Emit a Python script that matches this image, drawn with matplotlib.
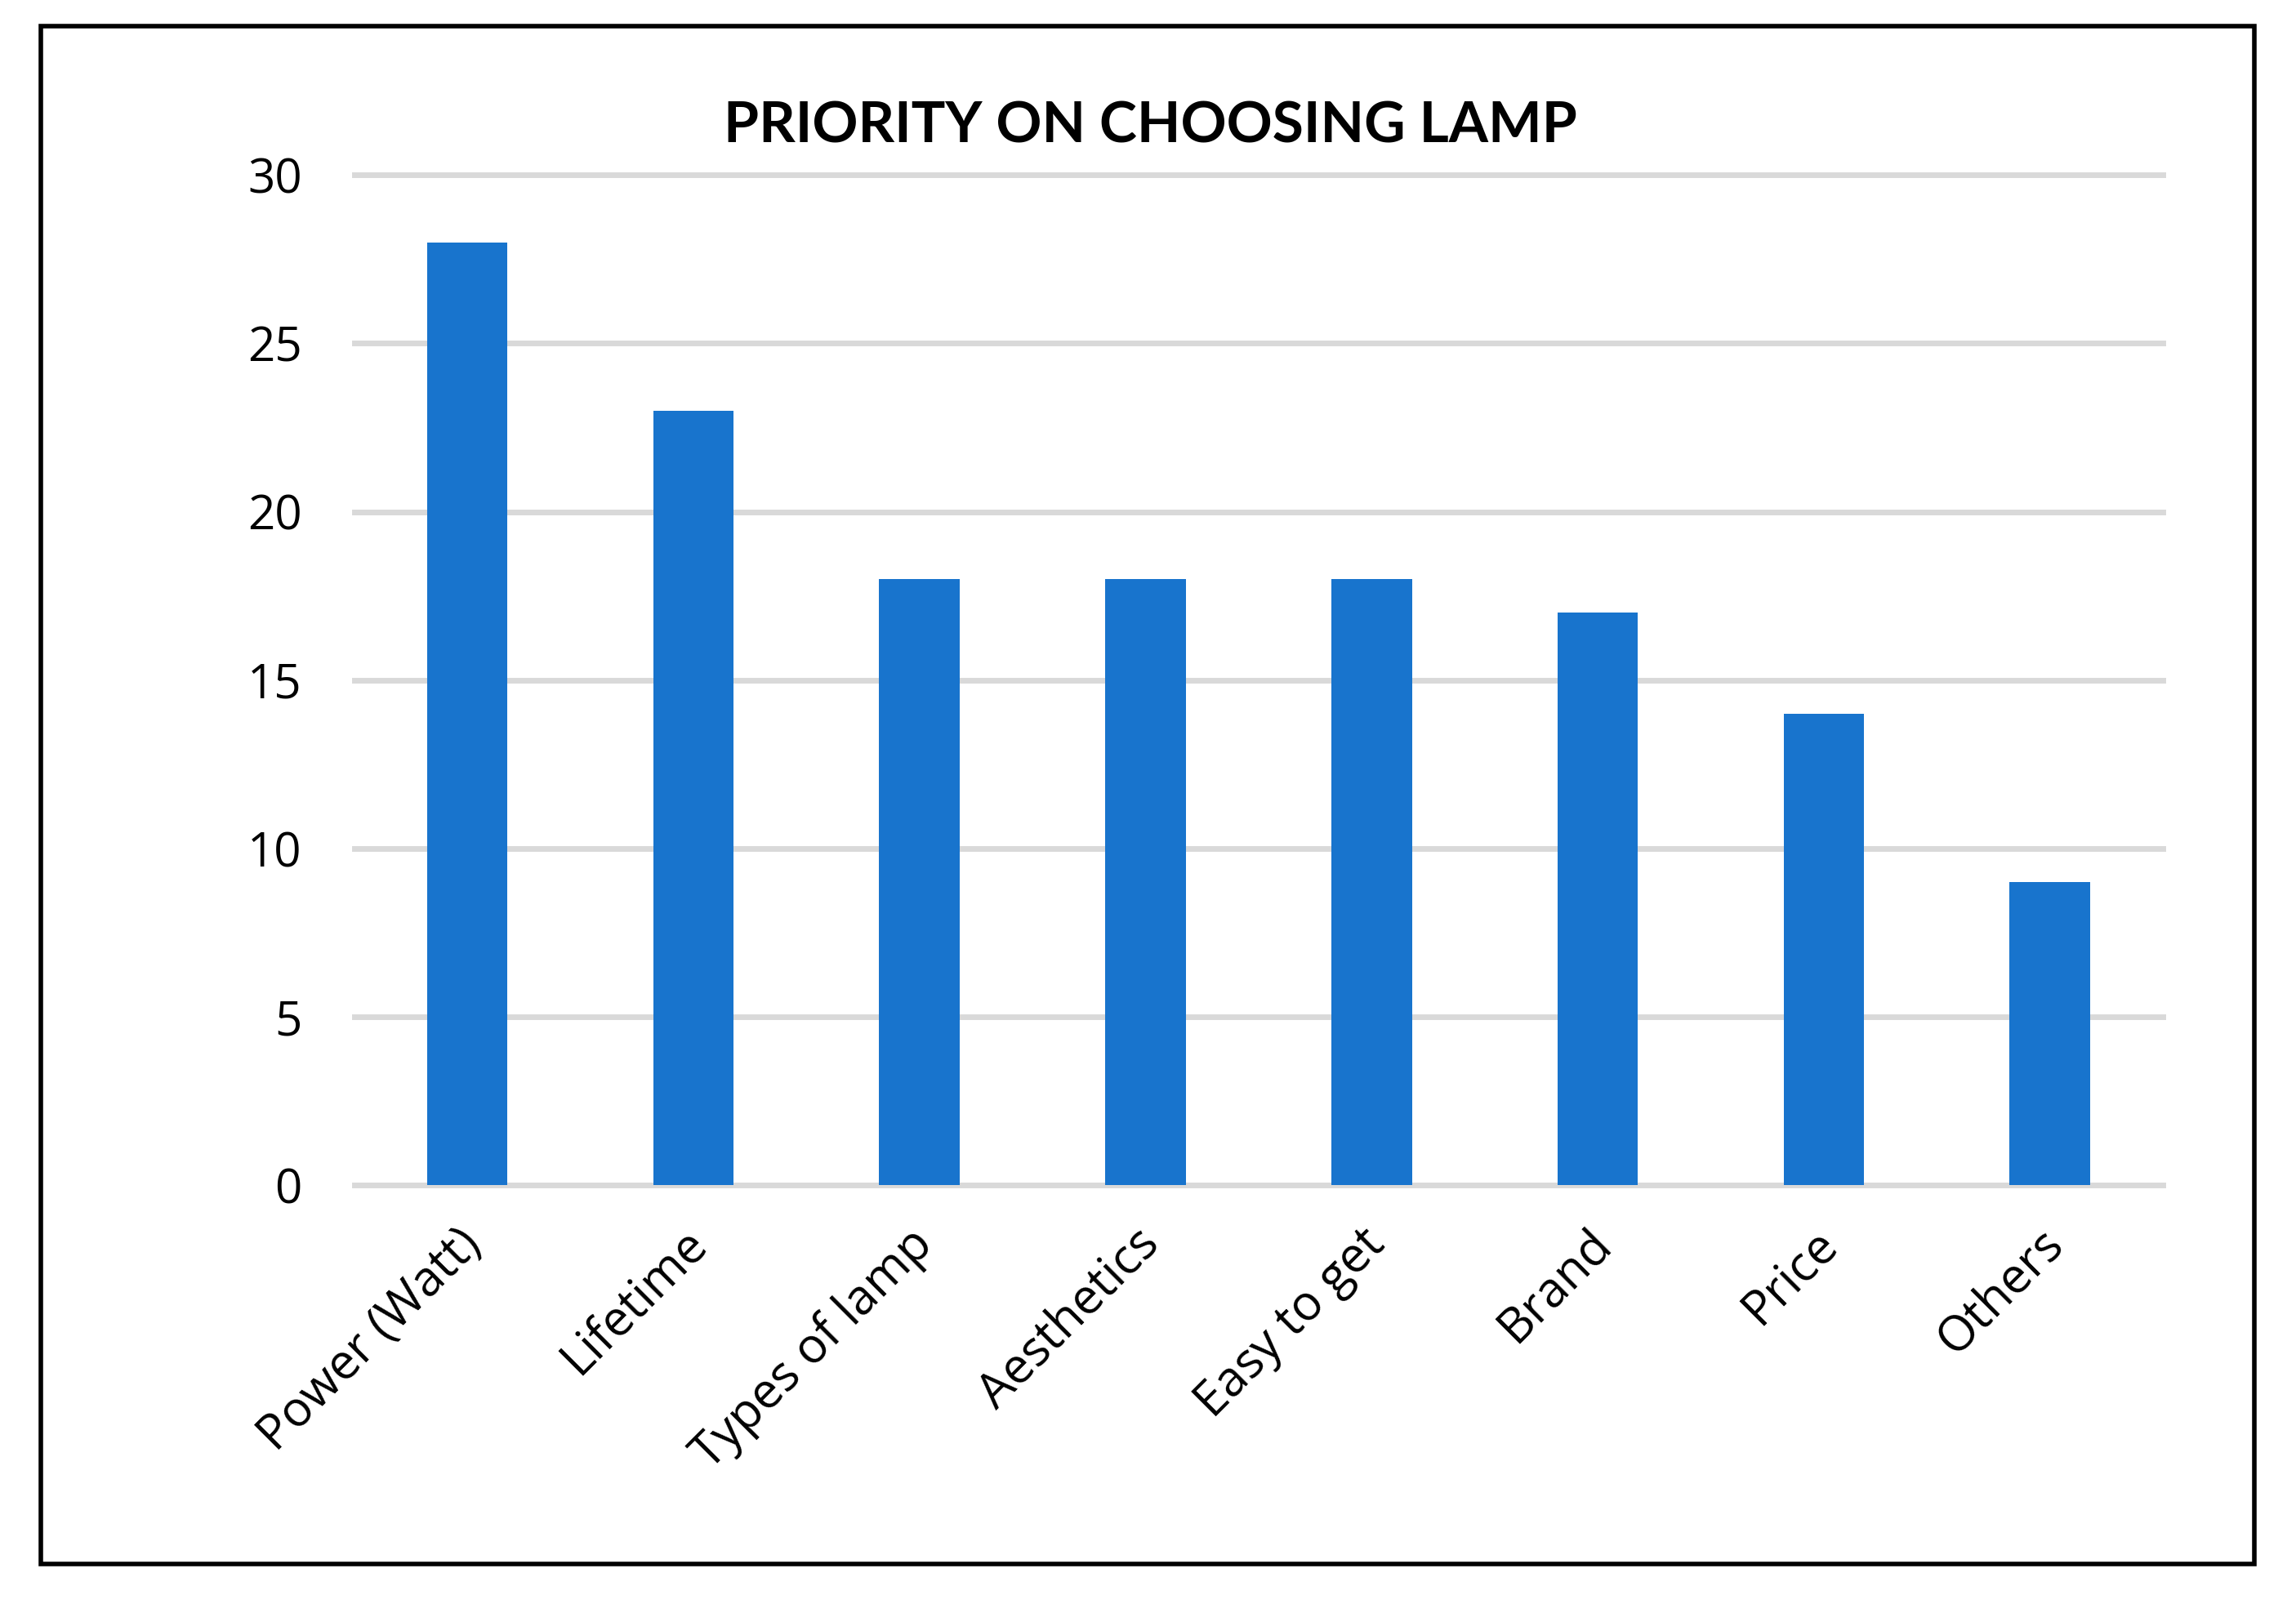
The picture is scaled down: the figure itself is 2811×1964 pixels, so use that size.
import matplotlib
matplotlib.use('Agg')
import matplotlib.pyplot as plt
import matplotlib.transforms as mtransforms
from matplotlib.patches import Rectangle
import numpy as np

# データ
categories = ['Power (Watt)', 'Lifetime', 'Types of lamp', 'Aesthetics',
              'Easy to get', 'Brand', 'Price', 'Others']
values = [28, 23, 18, 18, 18, 17, 14, 9]
yticks = [0, 5, 10, 15, 20, 25, 30]

plt.rcParams['font.family'] = ['Open Sans', 'DejaVu Sans']

fig = plt.figure(figsize=(28.11, 19.64), dpi=100)
ax = fig.add_axes([0.1543, 0.261, 0.942 - 0.1543, 0.891 - 0.261])

x = np.arange(len(categories))
ax.bar(x, values, width=0.356, color='#1874CD', zorder=3)

ax.set_xlim(-0.5, len(categories) - 0.5)
ax.set_ylim(0, 30)
ax.set_yticks(yticks)
ax.set_yticklabels([str(t) for t in yticks], fontsize=42)
ax.set_xticks(x)
ax.set_xticklabels(categories, fontsize=43, rotation=45, ha='right',
                   rotation_mode='anchor')
ax.tick_params(axis='both', length=0)
ax.tick_params(axis='y', pad=46)
ax.tick_params(axis='x', pad=30)

# ラベルを少し左へずらす
offset = mtransforms.ScaledTranslation(-10 / 72, 0, fig.dpi_scale_trans)
for lbl in ax.get_xticklabels():
    lbl.set_transform(lbl.get_transform() + offset)

# 横グリッド線
ax.grid(axis='y', color='#D9D9D9', linewidth=5, zorder=0)
for gl in ax.get_ygridlines():
    gl.set_clip_on(False)
ax.set_axisbelow(True)
for s in ax.spines.values():
    s.set_visible(False)

fig.text(0.501, 0.911, 'PRIORITY ON CHOOSING LAMP', fontsize=50,
         fontweight='bold', family=['Lato', 'DejaVu Sans'],
         ha='center', va='baseline')

# 外枠
fig.patches.append(Rectangle((0.0179, 0.0247), 0.982 - 0.0179, 0.9836 - 0.0247,
                             transform=fig.transFigure, fill=False,
                             edgecolor='black', linewidth=4))

fig.savefig('out.png', dpi=100, facecolor='white')
